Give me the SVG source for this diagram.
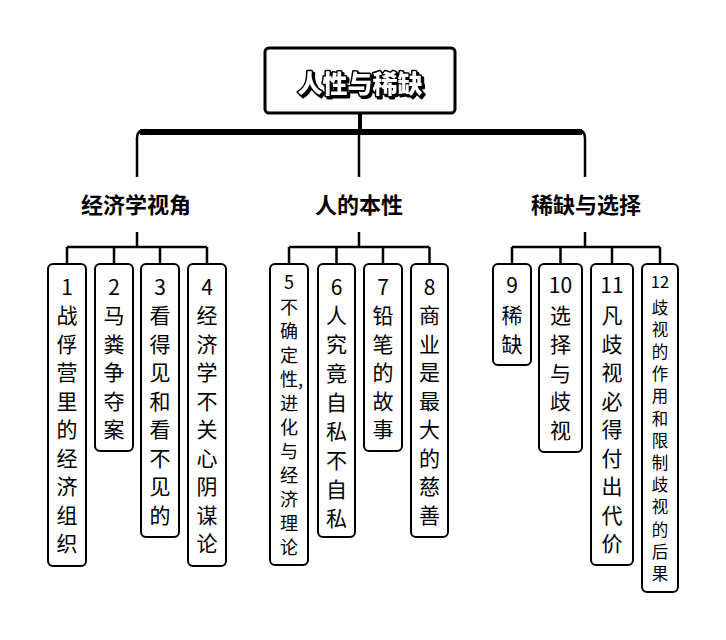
<svg xmlns="http://www.w3.org/2000/svg" width="726" height="640" viewBox="0 0 726 640">
<defs>
<filter id="sh" x="-10%" y="-20%" width="130%" height="150%">
<feDropShadow dx="2" dy="2" stdDeviation="0" flood-color="#000"/>
</filter>
</defs>
<style>
.box{fill:#fff;stroke:#000;stroke-width:2}
.lf{font-family:"Noto Sans CJK SC","Noto Sans",sans-serif;font-size:21px;text-anchor:middle;fill:#000}
.sm{font-size:18px}
.xs{font-size:16.5px}
.l1{font-family:"Noto Sans CJK SC","Noto Sans",sans-serif;font-size:22px;font-weight:700;text-anchor:middle;fill:#000}
.root{font-family:"Noto Sans CJK SC","Noto Sans",sans-serif;font-size:25px;font-weight:900;text-anchor:middle;fill:#fff;stroke:#000;stroke-width:3;paint-order:stroke;stroke-linejoin:round}
.c{fill:none;stroke:#000;stroke-width:2.5}
</style>
<rect width="726" height="640" fill="#fff"/>
<g id="connectors">
<path d="M360,113 V132" fill="none" stroke="#000" stroke-width="4"/>
<path d="M140,132 H582" fill="none" stroke="#000" stroke-width="6"/>
<path class="c" d="M137,177 V138 Q137,130 145,130"/>
<path class="c" d="M585,177 V138 Q585,130 577,130"/>
<path class="c" d="M359,132 V177"/>
<path class="c" d="M137,232 V247 M67,247 H207 M67,247 V264 M114,247 V264 M160,247 V264 M207,247 V264"/>
<path class="c" d="M359,232 V247 M289,247 H429.5 M289,247 V264 M336.5,247 V264 M383,247 V264 M429.5,247 V264"/>
<path class="c" d="M585,232 V247 M512,247 H660 M512,247 V264 M560.5,247 V264 M612,247 V264 M660,247 V264"/>
</g>
<g id="root">
<rect x="265" y="48" width="190" height="65" rx="4" fill="#fff" stroke="#000" stroke-width="3"/>
<text class="root" x="360" y="93" filter="url(#sh)">人性与稀缺</text>
</g>
<g id="n-econ"><text class="l1" x="136" y="213">经济学视角</text></g>
<g id="n-human"><text class="l1" x="359" y="213">人的本性</text></g>
<g id="n-scarce"><text class="l1" x="586" y="213">稀缺与选择</text></g>

<g id="n1">
<rect class="box" x="48" y="264" width="38" height="302" rx="5"/>
<text class="lf"><tspan x="67" y="295">1</tspan><tspan x="67" y="323">战</tspan><tspan x="67" y="351.5">俘</tspan><tspan x="67" y="380">营</tspan><tspan x="67" y="408.5">里</tspan><tspan x="67" y="437">的</tspan><tspan x="67" y="465.5">经</tspan><tspan x="67" y="494">济</tspan><tspan x="67" y="522.5">组</tspan><tspan x="67" y="551">织</tspan></text>
</g>
<g id="n2">
<rect class="box" x="95" y="264" width="38" height="187" rx="5"/>
<text class="lf"><tspan x="114" y="295">2</tspan><tspan x="114" y="323">马</tspan><tspan x="114" y="351.5">粪</tspan><tspan x="114" y="380">争</tspan><tspan x="114" y="408.5">夺</tspan><tspan x="114" y="437">案</tspan></text>
</g>
<g id="n3">
<rect class="box" x="141" y="264" width="38" height="273" rx="5"/>
<text class="lf"><tspan x="160" y="295">3</tspan><tspan x="160" y="323">看</tspan><tspan x="160" y="351.5">得</tspan><tspan x="160" y="380">见</tspan><tspan x="160" y="408.5">和</tspan><tspan x="160" y="437">看</tspan><tspan x="160" y="465.5">不</tspan><tspan x="160" y="494">见</tspan><tspan x="160" y="522.5">的</tspan></text>
</g>
<g id="n4">
<rect class="box" x="188" y="264" width="38" height="302" rx="5"/>
<text class="lf"><tspan x="207" y="295">4</tspan><tspan x="207" y="323">经</tspan><tspan x="207" y="351.5">济</tspan><tspan x="207" y="380">学</tspan><tspan x="207" y="408.5">不</tspan><tspan x="207" y="437">关</tspan><tspan x="207" y="465.5">心</tspan><tspan x="207" y="494">阴</tspan><tspan x="207" y="522.5">谋</tspan><tspan x="207" y="551">论</tspan></text>
</g>
<g id="n5">
<rect class="box" x="270" y="264" width="38" height="301" rx="5"/>
<text class="lf sm"><tspan x="289" y="289">5</tspan><tspan x="289" y="314">不</tspan><tspan x="289" y="338">确</tspan><tspan x="289" y="362">定</tspan><tspan x="289" y="410">进</tspan><tspan x="289" y="434">化</tspan><tspan x="289" y="458">与</tspan><tspan x="289" y="482">经</tspan><tspan x="289" y="506">济</tspan><tspan x="289" y="530">理</tspan><tspan x="289" y="554">论</tspan></text>
<text class="lf sm" x="280" y="386" style="text-anchor:start">性,</text>
</g>
<g id="n6">
<rect class="box" x="318" y="264" width="37" height="273" rx="5"/>
<text class="lf"><tspan x="336.5" y="295">6</tspan><tspan x="336.5" y="323">人</tspan><tspan x="336.5" y="352">究</tspan><tspan x="336.5" y="381">竟</tspan><tspan x="336.5" y="410">自</tspan><tspan x="336.5" y="439">私</tspan><tspan x="336.5" y="468">不</tspan><tspan x="336.5" y="497">自</tspan><tspan x="336.5" y="526">私</tspan></text>
</g>
<g id="n7">
<rect class="box" x="364" y="264" width="38" height="187" rx="5"/>
<text class="lf"><tspan x="383" y="295">7</tspan><tspan x="383" y="323">铅</tspan><tspan x="383" y="351.5">笔</tspan><tspan x="383" y="380">的</tspan><tspan x="383" y="408.5">故</tspan><tspan x="383" y="437">事</tspan></text>
</g>
<g id="n8">
<rect class="box" x="411" y="264" width="37" height="273" rx="5"/>
<text class="lf"><tspan x="429.5" y="295">8</tspan><tspan x="429.5" y="323">商</tspan><tspan x="429.5" y="351.5">业</tspan><tspan x="429.5" y="380">是</tspan><tspan x="429.5" y="408.5">最</tspan><tspan x="429.5" y="437">大</tspan><tspan x="429.5" y="465.5">的</tspan><tspan x="429.5" y="494">慈</tspan><tspan x="429.5" y="522.5">善</tspan></text>
</g>
<g id="n9">
<rect class="box" x="493" y="264" width="38" height="101" rx="5"/>
<text class="lf"><tspan x="512" y="293">9</tspan><tspan x="512" y="323">稀</tspan><tspan x="512" y="352">缺</tspan></text>
</g>
<g id="n10">
<rect class="box" x="539" y="264" width="43" height="188" rx="5"/>
<text class="lf"><tspan x="560.5" y="293">10</tspan><tspan x="560.5" y="323">选</tspan><tspan x="560.5" y="352">择</tspan><tspan x="560.5" y="381">与</tspan><tspan x="560.5" y="409">歧</tspan><tspan x="560.5" y="438">视</tspan></text>
</g>
<g id="n11">
<rect class="box" x="591" y="264" width="42" height="301" rx="5"/>
<text class="lf"><tspan x="612" y="293">11</tspan><tspan x="612" y="323">凡</tspan><tspan x="612" y="351.5">歧</tspan><tspan x="612" y="380">视</tspan><tspan x="612" y="408.5">必</tspan><tspan x="612" y="437">得</tspan><tspan x="612" y="465.5">付</tspan><tspan x="612" y="494">出</tspan><tspan x="612" y="522.5">代</tspan><tspan x="612" y="551">价</tspan></text>
</g>
<g id="n12">
<rect class="box" x="642" y="264" width="36" height="328" rx="5"/>
<text class="lf xs"><tspan x="660" y="288">12</tspan><tspan x="660" y="313.5">歧</tspan><tspan x="660" y="335.7">视</tspan><tspan x="660" y="357.9">的</tspan><tspan x="660" y="380.1">作</tspan><tspan x="660" y="402.3">用</tspan><tspan x="660" y="424.5">和</tspan><tspan x="660" y="446.7">限</tspan><tspan x="660" y="468.9">制</tspan><tspan x="660" y="491.1">歧</tspan><tspan x="660" y="513.3">视</tspan><tspan x="660" y="535.5">的</tspan><tspan x="660" y="557.7">后</tspan><tspan x="660" y="579.9">果</tspan></text>
</g>
</svg>
